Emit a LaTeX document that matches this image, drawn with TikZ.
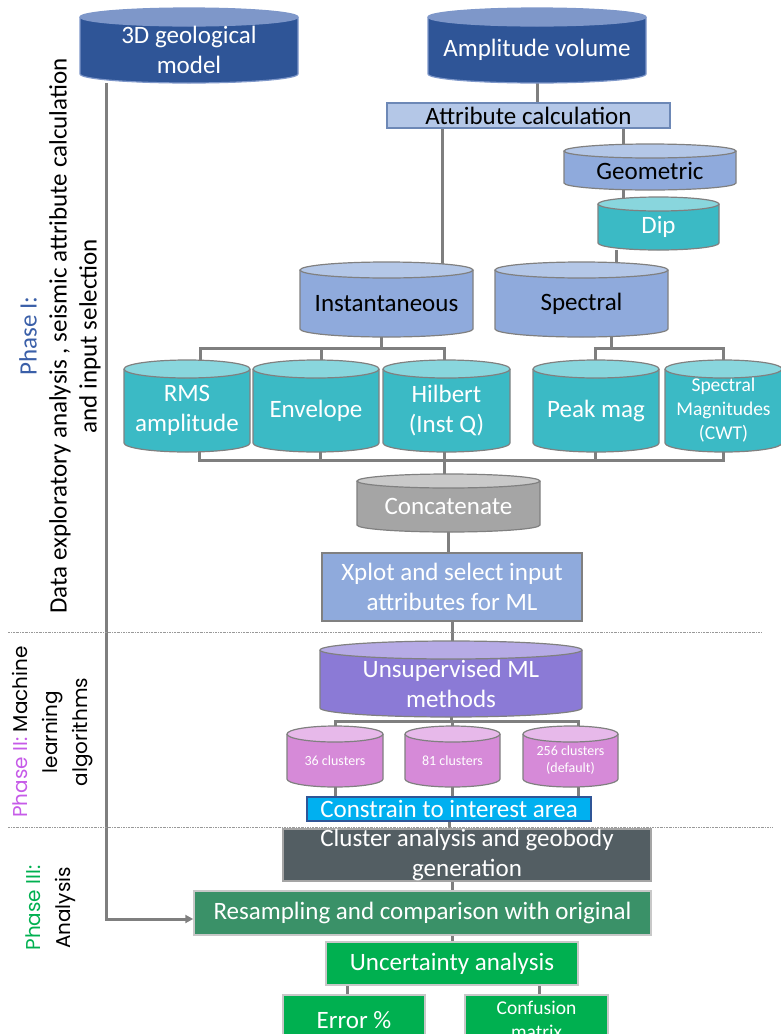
\documentclass[tikz,border=0pt]{standalone}
\usepackage{fontspec}
\setmainfont{Carlito}
\newfontfamily\gothicfont{Poppins}
\usepackage{xcolor}
\definecolor{cNavy}{HTML}{2F5597}
\definecolor{cNavyTop}{HTML}{7E97C9}
\definecolor{cSteel}{HTML}{8FAADC}
\definecolor{cSteelTop}{HTML}{B4C7E7}
\definecolor{cTeal}{HTML}{3BBAC5}
\definecolor{cTealTop}{HTML}{89D6DD}
\definecolor{cConcat}{HTML}{A5A5A5}
\definecolor{cConcatTop}{HTML}{C9C9C9}
\definecolor{cPurple}{HTML}{8B7AD6}
\definecolor{cPurpleTop}{HTML}{B6ABE5}
\definecolor{cPink}{HTML}{D68AD8}
\definecolor{cPinkTop}{HTML}{E7B9EA}
\definecolor{cSky}{HTML}{00B0F0}
\definecolor{cSlate}{HTML}{535E63}
\definecolor{cJade}{HTML}{3A9168}
\definecolor{cGreen}{HTML}{00B050}
\definecolor{cLink}{HTML}{7F7F7F}
\definecolor{cEdge}{HTML}{808080}
\definecolor{cPale}{HTML}{C8C8C8}
\definecolor{cPhaseI}{HTML}{3A5FA8}
\definecolor{cPhaseII}{HTML}{C65BE8}
\definecolor{cPhaseIII}{HTML}{00B050}
\usepackage{tikz}
\usetikzlibrary{arrows.meta,calc,backgrounds}
\newcommand\fbase{\fontsize{25}{30}\selectfont}
\newcommand\fmid{\fontsize{19.5}{24}\selectfont}
\newcommand\fsmall{\fontsize{14}{17}\selectfont}
\newcommand\fgothic{\gothicfont\fontsize{20}{30}\selectfont}
\tikzset{
  cyl-top/.store in=\cylTop,
  cyl-body/.store in=\cylBody,
  cyl-edge/.store in=\cylEdge,
  cyl-ry/.store in=\cylRy,
  cyl-top=white, cyl-body=white, cyl-edge=cEdge, cyl-ry=8,
  cyl-navy/.style={cyl-top=cNavyTop,cyl-body=cNavy,cyl-edge=cNavyTop,cyl-ry=9,text=white},
  cyl-steel/.style={cyl-top=cSteelTop,cyl-body=cSteel,text=black},
  cyl-teal/.style={cyl-top=cTealTop,cyl-body=cTeal,text=white},
  cyl-gray/.style={cyl-top=cConcatTop,cyl-body=cConcat,text=white},
  cyl-purple/.style={cyl-top=cPurpleTop,cyl-body=cPurple,text=white},
  cyl-pink/.style={cyl-top=cPinkTop,cyl-body=cPink,text=white,font=\fsmall},
  cyl-label/.style={inner sep=0pt,align=center},
  box/.style={draw,line width=1.5pt,inner sep=0pt,align=center,font=\fbase},
  box-light/.style={fill=cSteelTop,draw=cNavy!70,line width=1.2pt,text=black},
  box-steel/.style={fill=cSteel,draw=cEdge,text=white},
  box-sky/.style={fill=cSky,draw=cNavy,text=white},
  box-slate/.style={fill=cSlate,draw=cConcat,text=white},
  box-jade/.style={fill=cJade,draw=cPale,text=white},
  box-green/.style={fill=cGreen,draw=cPale,text=white},
  link/.style={draw=cLink,line width=3pt},
  sep-line/.style={draw=cEdge!80,line width=0.8pt,dash pattern=on 2pt off 1pt on 0.6pt off 1pt},
  phase-label/.style={rotate=90,align=center,inner sep=0pt},
}
% cylinder: style, name, left, right, top, bottom, text
\newcommand\dbcyl[7]{%
  \begin{scope}[font=\fbase,#1]
    \pgfmathsetmacro\cylX{(#3+#4)/2}%
    \pgfmathsetmacro\cylRX{(#4-#3)/2}%
    \pgfmathsetmacro\cylCT{#5+\cylRy}%
    \pgfmathsetmacro\cylCB{#6-\cylRy}%
    \pgfmathsetmacro\cylW{#4-#3}%
    \pgfmathsetmacro\cylH{#6-\cylCT}%
    \pgfmathsetmacro\cylY{(\cylCT+#6)/2}%
    \filldraw[fill=\cylBody,draw=\cylEdge,line width=1.2pt]
      (#3,\cylCT) -- (#3,\cylCB)
      arc[start angle=180,end angle=0,x radius=\cylRX,y radius=\cylRy] -- (#4,\cylCT);
    \filldraw[fill=\cylTop,draw=\cylEdge,line width=1.2pt]
      (\cylX,\cylCT) ellipse[x radius=\cylRX,y radius=\cylRy];
    \node[cyl-label,minimum width=\cylW pt,minimum height=\cylH pt] (#2) at (\cylX,\cylY) {#7};
  \end{scope}}

\begin{document}
\begin{tikzpicture}[x=1pt,y=-1pt]
  \useasboundingbox (0,0) rectangle (781,1034);
  \clip (0,0) rectangle (781,1034);

  % phase labels and separators
  \node[phase-label,font=\fbase] (ph1) at (60,336)
    {{\color{cPhaseI}Phase I:}\\Data exploratory analysis , seismic attribute calculation\\and input selection};
  \node[phase-label,font=\fgothic] (ph2) at (53,732)
    {{\color{cPhaseII}Phase II:} Machine\\learning\\algorithms};
  \node[phase-label,font=\fgothic,text depth=0pt] (ph3) at (48,908)
    {{\color{cPhaseIII}Phase III:}\\Analysis};
  \draw[sep-line] (8,632) -- (762,632);
  \draw[sep-line] (8,827) -- (772,827);

  % inputs
  \dbcyl{cyl-navy}{model}{80}{298}{8}{83}{3D geological\\model}
  \dbcyl{cyl-navy}{ampvol}{428}{646}{8}{83}{Amplitude volume}
  \node[box,box-light,minimum width=283,minimum height=25] (attr) at (528.5,115.5) {Attribute calculation};

  % attribute families
  \dbcyl{cyl-steel,cyl-ry=7}{geom}{564}{736}{144}{190}{Geometric}
  \dbcyl{cyl-teal,cyl-ry=7}{dip}{598}{719}{197}{250}{Dip}
  \dbcyl{cyl-steel}{inst}{300}{473}{262}{337}{Instantaneous}
  \dbcyl{cyl-steel}{spec}{495}{668}{262}{337}{Spectral}
  \dbcyl{cyl-teal,cyl-ry=9}{rms}{124}{250}{360}{452}{RMS\\amplitude}
  \dbcyl{cyl-teal,cyl-ry=9}{env}{253}{379}{360}{452}{Envelope}
  \dbcyl{cyl-teal,cyl-ry=9}{hilb}{383}{510}{360}{452}{Hilbert\\(Inst Q)}
  \dbcyl{cyl-teal,cyl-ry=9}{peak}{533}{659}{360}{452}{Peak mag}
  \dbcyl{cyl-teal,cyl-ry=9,font=\fmid}{smag}{665}{782}{360}{452}{Spectral\\Magnitudes\\(CWT)}
  \dbcyl{cyl-gray,cyl-ry=7}{concat}{357}{540}{474}{532}{Concatenate}
  \node[box,box-steel,minimum width=260,minimum height=68] (xplot) at (452,587)
    {Xplot and select input\\attributes for ML};

  % machine learning
  \dbcyl{cyl-purple,cyl-ry=9}{unsup}{320}{582}{641}{717}{Unsupervised ML\\methods}
  \dbcyl{cyl-pink}{c36}{287}{383}{726}{787}{36 clusters}
  \dbcyl{cyl-pink}{c81}{405}{500}{726}{787}{81 clusters}
  \dbcyl{cyl-pink}{c256}{523}{618}{726}{787}{256 clusters\\(default)}
  \node[box,box-sky,minimum width=284,minimum height=24] (cons) at (449,809) {Constrain to interest area};

  % analysis
  \node[box,box-slate,minimum width=368,minimum height=52] (cana) at (467,855)
    {Cluster analysis and geobody\\generation};
  \node[box,box-jade,minimum width=457,minimum height=44] (resamp) at (422.5,913)
    {Resampling and comparison with original};
  \node[box,box-green,minimum width=252,minimum height=43] (uncert) at (452,963.5) {Uncertainty analysis};
  \node[box,box-green,minimum width=142,minimum height=50] (err) at (354,1020) {Error \%};
  \node[box,box-green,minimum width=143,minimum height=50,font=\fmid] (conf) at (536.5,1020)
    {Confusion\\matrix};

  % connectors
  \begin{scope}[on background layer]
    \draw[link] (ampvol.south) -- (ampvol.south |- attr.north);
    \draw[link] ([xshift=-27]geom.north) -- ([xshift=-27]geom.north |- attr.south);
    \draw[link] ([xshift=-27]geom.south) -- ([xshift=-27]geom.south |- dip.north);
    \draw[link] ([xshift=-42.5]dip.south) -- ([xshift=-42.5]dip.south |- spec.north);
    \draw[link] ([xshift=55.5]inst.north) -- ([xshift=55.5]inst.north |- attr.south);

    \path ([xshift=-5]inst.south) ++(0,11) coordinate (inst-bus);
    \draw[link] ([xshift=-5]inst.south) -- (inst-bus);
    \draw[link] ([xshift=13]rms.north) |- (inst-bus) -| ([xshift=-2.5]hilb.north);
    \draw[link] ([xshift=5]env.north) -- ([xshift=5]env.north |- inst-bus);

    \path ([xshift=30]spec.south) ++(0,11) coordinate (spec-bus);
    \draw[link] ([xshift=30]spec.south) -- (spec-bus);
    \draw[link] ([xshift=-1]peak.north) |- (spec-bus) -| (smag.north);

    \path ([xshift=-2.5]hilb.south) ++(0,8) coordinate (cat-bus);
    \draw[link] ([xshift=12]rms.south) |- (cat-bus) -| (smag.south);
    \draw[link] ([xshift=4]env.south) -- ([xshift=4]env.south |- cat-bus);
    \draw[link] ([xshift=-1]peak.south) -- ([xshift=-1]peak.south |- cat-bus);
    \draw[link] ([xshift=-2.5]hilb.south) -- ([xshift=-2.5]hilb.south |- concat.north);
    \draw[link] (concat.south) -- (concat.south |- xplot.north);
    \draw[link] (xplot.south) -- (xplot.south |- unsup.north);

    \path (unsup.south) ++(0,4) coordinate (ml-bus);
    \draw[link] (unsup.south) -- (ml-bus);
    \draw[link] (c36.north) |- (ml-bus) -| ([xshift=7.5]c256.north);
    \draw[link] (c81.north) -- (c81.north |- ml-bus);
    \draw[link] (c36.south) -- (c36.south |- cons.north);
    \draw[link] (c81.south) -- (c81.south |- cons.north);
    \draw[link] ([xshift=7.5]c256.south) -- ([xshift=7.5]c256.south |- cons.north);

    \draw[link] (cons.south) -- (cons.south |- cana.north);
    \draw[link] ([xshift=-15]cana.south) -- ([xshift=-15]cana.south |- resamp.north);
    \draw[link] (uncert.north |- resamp.south) -- (uncert.north);
    \draw[link] ([xshift=-7]err.north |- uncert.south) -- ([xshift=-7]err.north);
    \draw[link] ([xshift=2.5]conf.north |- uncert.south) -- ([xshift=2.5]conf.north);
    \draw[link,-{Triangle[length=8pt,width=8pt]}] ([xshift=-83]model.south) |- ([yshift=-6pt]resamp.west);
  \end{scope}
\end{tikzpicture}
\end{document}
